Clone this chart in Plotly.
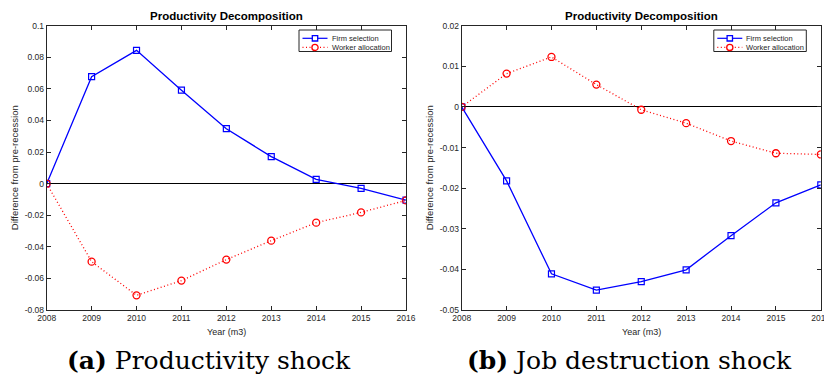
import plotly.graph_objects as go

years = [2008, 2009, 2010, 2011, 2012, 2013, 2014, 2015, 2016]

# (a) Productivity shock
prod_firm = [0.0, 0.0677, 0.0844, 0.0592, 0.0348, 0.0171, 0.0027, -0.0030, -0.0104]
prod_worker = [0.0, -0.0494, -0.0707, -0.0614, -0.0481, -0.0361, -0.0247, -0.0182, -0.0106]

# (b) Job destruction shock
jd_firm = [0.0, -0.0182, -0.0411, -0.0451, -0.0430, -0.0401, -0.0317, -0.0236, -0.0192]
jd_worker = [0.0, 0.0082, 0.0123, 0.0055, -0.0007, -0.0040, -0.0084, -0.0114, -0.0117]

left_yticks = [0.1, 0.08, 0.06, 0.04, 0.02, 0, -0.02, -0.04, -0.06, -0.08]
right_yticks = [0.02, 0.01, 0, -0.01, -0.02, -0.03, -0.04, -0.05]

series_names = ["Firm selection", "Worker allocation"]
title_text = "Productivity Decomposition"
xlabel = "Year (m3)"
ylabel = "Difference from pre-recession"
captions = ["<b>(a)</b> Productivity shock", "<b>(b)</b> Job destruction shock"]

W, H = 824, 385
BLUE = "#0000ff"
RED = "#ff0000"
AXC = "#262626"
SANS = "Liberation Sans, Arial, sans-serif"
SERIF = "DejaVu Serif, Liberation Serif, serif"
DOTS = "1px,2.5px"


def px(x):
    return x / W


def py(y):
    return (H - y) / H


fig = go.Figure()

panels = [
    dict(firm=prod_firm, worker=prod_worker, xa="x", ya="y"),
    dict(firm=jd_firm, worker=jd_worker, xa="x2", ya="y2"),
]
for p in panels:
    fig.add_trace(go.Scatter(
        x=years, y=p["firm"], xaxis=p["xa"], yaxis=p["ya"], name=series_names[0],
        mode="lines+markers", showlegend=False,
        line=dict(color=BLUE, width=1.3),
        marker=dict(symbol="square-open", size=6, color=BLUE, line=dict(width=1.2)),
    ))
    fig.add_trace(go.Scatter(
        x=years, y=p["worker"], xaxis=p["xa"], yaxis=p["ya"], name=series_names[1],
        mode="lines+markers", showlegend=False,
        line=dict(color=RED, width=1.3, dash=DOTS),
        marker=dict(symbol="circle-open", size=7, color=RED, line=dict(width=1.3)),
    ))

# axes boxes (pixel positions of the plotting areas)
x_box = [(46.7, 406.0), (461.7, 820.8)]
y_box = (25.7, 310.0)

common_x = dict(
    range=[2008, 2016], tickvals=years, ticktext=[str(y) for y in years],
    ticks="inside", ticklen=4, tickcolor=AXC, showline=True, linecolor=AXC, linewidth=1,
    mirror="ticks", showgrid=False, zeroline=False, automargin=False,
    ticklabeloverflow="allow",
    tickfont=dict(family=SANS, size=8.5, color=AXC),
)
common_y = dict(
    ticks="inside", ticklen=4, tickcolor=AXC, showline=True, linecolor=AXC, linewidth=1,
    mirror="ticks", showgrid=False, zeroline=True, zerolinecolor="#000000", zerolinewidth=1,
    automargin=False, tickfont=dict(family=SANS, size=8.5, color=AXC),
)

y_dom = [py(y_box[1]), py(y_box[0])]
fig.update_layout(
    width=W, height=H, margin=dict(l=0, r=0, t=0, b=0, pad=0, autoexpand=False),
    paper_bgcolor="white", plot_bgcolor="white", showlegend=False,
    xaxis=dict(common_x, domain=[px(x_box[0][0]), px(x_box[0][1])], anchor="y"),
    yaxis=dict(common_y, domain=y_dom, anchor="x", range=[-0.08, 0.1],
               tickvals=left_yticks, ticktext=["%g" % v for v in left_yticks]),
    xaxis2=dict(common_x, domain=[px(x_box[1][0]), px(x_box[1][1])], anchor="y2"),
    yaxis2=dict(common_y, domain=y_dom, anchor="x2", range=[-0.05, 0.02],
                tickvals=right_yticks, ticktext=["%g" % v for v in right_yticks]),
)

shapes = []
for i, (x0, x1) in enumerate(x_box):
    cx = (x0 + x1) / 2
    # panel title
    fig.add_annotation(x=px(cx), y=py(16), xref="paper", yref="paper",
                       text="<b>%s</b>" % title_text, showarrow=False,
                       font=dict(family=SANS, size=11.5, color="#000000"),
                       xanchor="center", yanchor="middle")
    # axis titles
    fig.add_annotation(x=px(cx), y=py(331.5), xref="paper", yref="paper",
                       text=xlabel, showarrow=False,
                       font=dict(family=SANS, size=9, color=AXC),
                       xanchor="center", yanchor="middle")
    fig.add_annotation(x=px(x0 - 32.5), y=py(168), xref="paper", yref="paper",
                       text=ylabel, showarrow=False, textangle=-90,
                       font=dict(family=SANS, size=9.5, color=AXC),
                       xanchor="center", yanchor="middle")

    # legend box
    lx1 = x1 - 14.5
    lx0 = lx1 - 92.5
    ly0, ly1 = 30.0, 51.5
    shapes.append(dict(type="rect", xref="paper", yref="paper",
                       x0=px(lx0), x1=px(lx1), y0=py(ly1), y1=py(ly0),
                       line=dict(color=AXC, width=1), fillcolor="white", layer="above"))
    rows = [38.3, 47.4]
    for name, ry, color, dash, sym in zip(series_names, rows, [BLUE, RED],
                                          ["solid", DOTS], ["square", "circle"]):
        shapes.append(dict(type="line", xref="paper", yref="paper",
                           x0=px(lx0 + 3.5), x1=px(lx0 + 28.5), y0=py(ry), y1=py(ry),
                           line=dict(color=color, width=1.2, dash=dash), layer="above"))
        mx = lx0 + 16
        r = 2.7 if sym == "square" else 3.1
        shapes.append(dict(type="rect" if sym == "square" else "circle",
                           xref="paper", yref="paper",
                           x0=px(mx - r), x1=px(mx + r), y0=py(ry + r), y1=py(ry - r),
                           line=dict(color=color, width=1.3), fillcolor="white", layer="above"))
        fig.add_annotation(x=px(lx0 + 30.5), y=py(ry), xref="paper", yref="paper",
                           text=name, showarrow=False,
                           font=dict(family=SANS, size=7.5, color=AXC),
                           xanchor="left", yanchor="middle")

fig.update_layout(shapes=shapes)

# sub-figure captions
for cap, cx in zip(captions, [209.0, 629.0]):
    fig.add_annotation(x=px(cx), y=py(360), xref="paper", yref="paper",
                       text=cap, showarrow=False,
                       font=dict(family=SERIF, size=25, color="#000000"),
                       xanchor="center", yanchor="middle")

fig.write_html("out.html")
